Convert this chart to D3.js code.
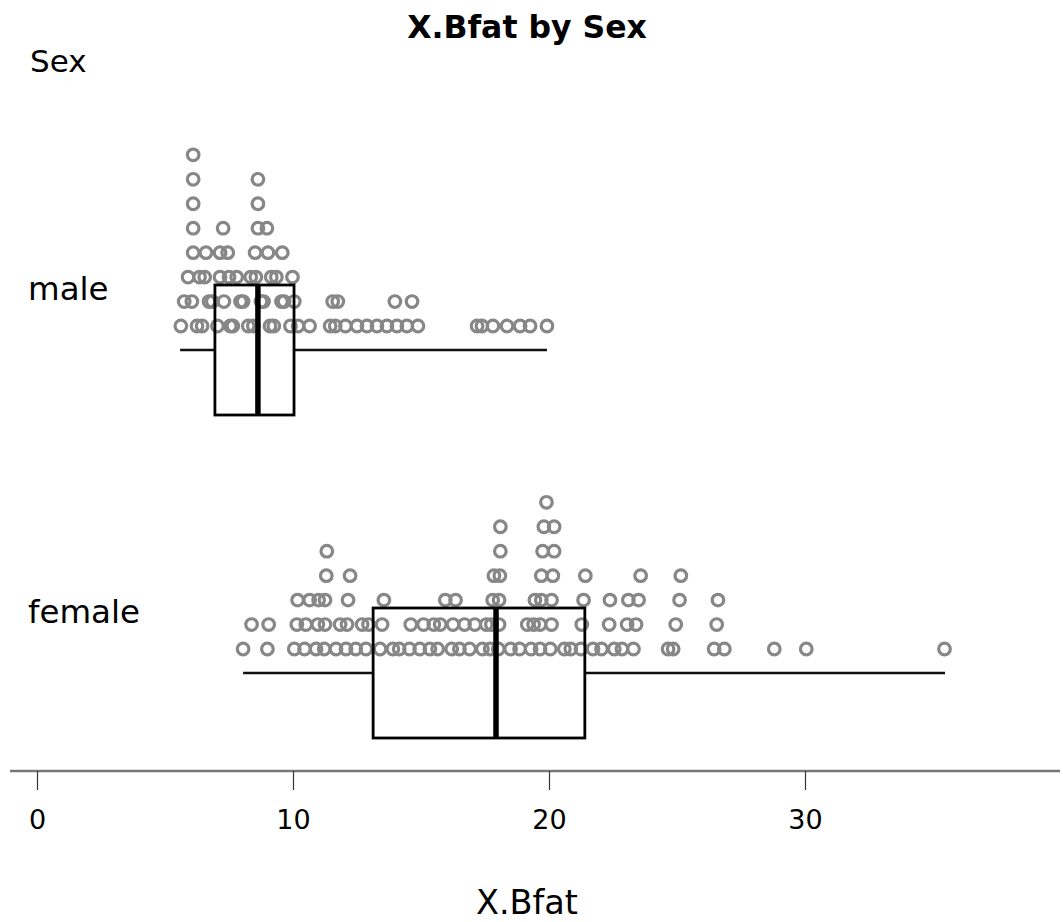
<!DOCTYPE html>
<html>
<head>
<meta charset="utf-8">
<script src="https://cdn.jsdelivr.net/npm/d3@7"></script>
<style>
  body { margin: 0; background: #fff; }
  svg { display: block; font-family: "DejaVu Sans", Verdana, sans-serif; }
</style>
</head>
<body>
<svg id="chart" width="1063" height="922"></svg>
<script>
// ---------------- data ----------------
const categories = ["male", "female"];

// values in data order (dots are stacked in this order within each bin)
const maleValues = [
  5.62, 5.75, 5.9,
  6.25, 6.05, 6.35, 6.1, 6.1, 6.1, 6.1, 6.1,
  6.45, 6.72, 6.55, 6.6,
  7.05, 6.85, 7.15, 7.15,
  7.55, 7.3, 7.5, 7.45, 7.27,
  7.65, 7.95, 7.8,
  8.25, 8.05, 8.35,
  8.45, 8.75, 8.55, 8.52, 8.63, 8.63, 8.63,
  9.1, 8.85, 9.15, 9.02, 8.98,
  9.25, 9.55, 9.35, 9.58,
  9.9, 9.65, 9.98,
  10.2, 10.05,
  10.65,
  11.45, 11.55,
  11.65, 11.75,
  12.05, 12.5, 12.89, 13.28,
  13.67, 13.98,
  14.06,
  14.45, 14.65,
  14.88,
  17.19, 17.38, 17.81, 18.36, 18.87, 19.26, 19.92
];

const femaleValues = [
  8.05, 8.38,
  9.0, 9.05,
  10.05, 10.15, 10.18,
  10.45, 10.5, 10.65,
  10.9, 10.97, 11.0,
  11.22, 11.25, 11.25, 11.3, 11.32,
  11.68, 11.84,
  12.07, 12.11, 12.15, 12.23,
  12.45, 12.7,
  12.85, 12.95,
  13.4, 13.48, 13.55,
  13.9,
  14.15,
  14.55, 14.6,
  14.95, 15.1,
  15.35, 15.5,
  15.65, 15.75, 15.95,
  16.2, 16.25, 16.35,
  16.5, 16.7,
  16.9, 17.1,
  17.4, 17.55,
  17.7, 17.75, 17.8, 17.85,
  18.02, 18.05, 18.05, 18.08, 18.1, 18.1,
  18.5,
  18.85, 19.15,
  19.3, 19.4, 19.45,
  19.65, 19.65, 19.7, 19.7, 19.75, 19.8, 19.9,
  20.05, 20.1, 20.1, 20.15, 20.2, 20.2,
  20.6,
  20.85,
  21.25, 21.28, 21.35, 21.42,
  21.72,
  22.05, 22.35, 22.38,
  22.55,
  22.85, 23.05, 23.1,
  23.3, 23.4, 23.5, 23.58,
  24.65,
  24.85, 24.95, 25.1, 25.15,
  26.45, 26.55, 26.6,
  26.85,
  28.8, 30.05, 35.45
];

// five-number summaries [min, Q1, median, Q3, max]
const maleBox = [5.59, 6.95, 8.63, 10.04, 19.92];
const femaleBox = [8.05, 13.13, 17.93, 21.4, 35.47];

const tickValues = [0, 10, 20, 30];
const titleText = "X.Bfat by Sex";
const xLabel = "X.Bfat";
const yLabel = "Sex";

// ---------------- layout ----------------
const svg = d3.select("#chart");

const x = d3.scaleLinear().domain([0, 40]).range([37, 1061]);
const yGroup = d3.scalePoint().domain(categories).range([350, 673]);

const binWidth = 0.4;
const levelStep = 24.45;
const dotOffset = 24;       // dot baseline above the whisker line
const boxHalf = 65;

const groups = [
  { name: "male", values: maleValues, box: maleBox },
  { name: "female", values: femaleValues, box: femaleBox }
];

function stack(values) {
  const counts = new Map();
  return values.map(v => {
    const b = Math.floor(v / binWidth + 1e-9);
    const lvl = counts.get(b) || 0;
    counts.set(b, lvl + 1);
    return { v, lvl };
  });
}

// title
svg.append("text")
  .attr("x", 527).attr("y", 27)
  .attr("text-anchor", "middle").attr("dominant-baseline", "central")
  .attr("font-size", 31.5).attr("font-weight", "bold").attr("fill", "#000")
  .text(titleText);

// y variable label
svg.append("text")
  .attr("x", 30).attr("y", 61)
  .attr("dominant-baseline", "central")
  .attr("font-size", 31).attr("fill", "#000")
  .text(yLabel);

groups.forEach(g => {
  const yc = yGroup(g.name);
  const base = yc - dotOffset;

  // group label
  svg.append("text")
    .attr("x", 28).attr("y", yc - 61)
    .attr("dominant-baseline", "central")
    .attr("font-size", 32.5).attr("fill", "#000")
    .text(g.name);

  // dots
  svg.append("g")
    .selectAll("circle")
    .data(stack(g.values))
    .join("circle")
    .attr("cx", d => x(d.v))
    .attr("cy", d => base - d.lvl * levelStep)
    .attr("r", 5.8)
    .attr("fill", "none")
    .attr("stroke", "#878787")
    .attr("stroke-width", 3.2);

  // boxplot
  const [mn, q1, md, q3, mx] = g.box;
  const bg = svg.append("g");
  bg.append("line")
    .attr("x1", x(mn)).attr("x2", x(q1))
    .attr("y1", yc).attr("y2", yc)
    .attr("stroke", "#111").attr("stroke-width", 2.4);
  bg.append("line")
    .attr("x1", x(q3)).attr("x2", x(mx))
    .attr("y1", yc).attr("y2", yc)
    .attr("stroke", "#111").attr("stroke-width", 2.4);
  bg.append("rect")
    .attr("x", x(q1)).attr("y", yc - boxHalf)
    .attr("width", x(q3) - x(q1)).attr("height", boxHalf * 2)
    .attr("fill", "none").attr("stroke", "#000").attr("stroke-width", 2.8);
  bg.append("line")
    .attr("x1", x(md)).attr("x2", x(md))
    .attr("y1", yc - boxHalf).attr("y2", yc + boxHalf)
    .attr("stroke", "#000").attr("stroke-width", 5.5);
});

// x axis
const axisY = 771;
svg.append("line")
  .attr("x1", 10).attr("x2", 1060)
  .attr("y1", axisY).attr("y2", axisY)
  .attr("stroke", "#777").attr("stroke-width", 2.5);

const axis = d3.axisBottom(x).tickValues(tickValues).tickSize(19).tickPadding(20)
  .tickFormat(d3.format("d"));
const ag = svg.append("g").attr("transform", `translate(0,${axisY})`).call(axis);
ag.select(".domain").remove();
ag.selectAll(".tick line").attr("stroke", "#333").attr("stroke-width", 1.2);
ag.selectAll(".tick text")
  .attr("font-size", 27).attr("fill", "#000")
  .attr("font-family", "DejaVu Sans, Verdana, sans-serif");

// x label
svg.append("text")
  .attr("x", 527).attr("y", 902)
  .attr("text-anchor", "middle").attr("dominant-baseline", "central")
  .attr("font-size", 33.5).attr("fill", "#000")
  .text(xLabel);
</script>
</body>
</html>
